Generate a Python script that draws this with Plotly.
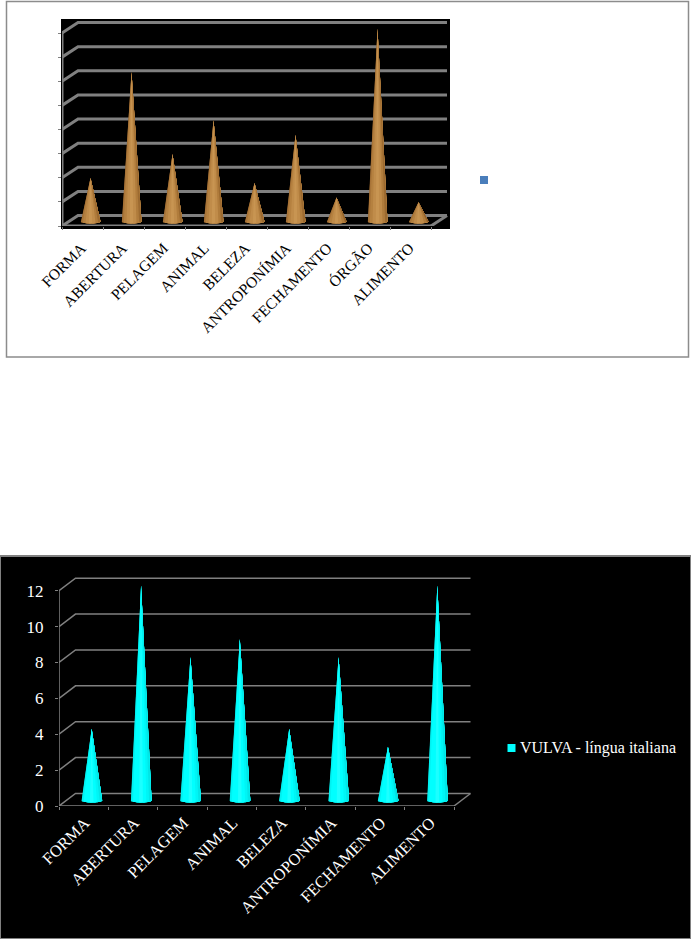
import math
import plotly.graph_objects as go

# ---- data ----
top_categories = ["FORMA", "ABERTURA", "PELAGEM", "ANIMAL", "BELEZA",
                  "ANTROPONÍMIA", "FECHAMENTO", "ÓRGÃO", "ALIMENTO"]
top_values = [9, 31, 14, 21, 8, 18, 5, 40, 4]
top_ticks = [0, 5, 10, 15, 20, 25, 30, 35, 40]

bottom_categories = ["FORMA", "ABERTURA", "PELAGEM", "ANIMAL", "BELEZA",
                     "ANTROPONÍMIA", "FECHAMENTO", "ALIMENTO"]
bottom_values = [4, 12, 8, 9, 4, 8, 3, 12]
bottom_ticks = [0, 2, 4, 6, 8, 10, 12]
bottom_series = "VULVA - língua italiana"

# ---- style / layout (pixels of the 691x939 page) ----
W, H = 691, 939
FONT = "Liberation Serif"
GREY = "#808080"
BROWN = ["#96642c", "#a87438", "#b58140", "#c08c4a", "#c89552", "#c08c4a",
         "#b07c3c", "#9c6a30", "#8a5a26"]
CYAN = ["#00e6e6", "#00f2f2", "#00ffff", "#00ffff", "#1cffff", "#00ffff", "#00f5f5",
        "#00e6e6", "#00d2d2"]


def px_x(p):
    return p / W


def px_y(p):
    return 1 - p / H


fig = go.Figure()


def chart(suffix, cats, vals, ticks, x0, x1, x_right, y0, y_top, depth, inset,
          base_hw, base_hh, colours, line_w, font_colour, font_size, tick_size,
          standoff, shift):
    """x0/x1: front floor ends, y0: zero line, y_top: pixel of the top value."""
    n = len(cats)
    sx = (x1 - x0) / n
    sy = (y0 - y_top) / ticks[-1]
    top_px = y_top - depth[1] - 6
    xmax = (x_right - x0) / sx
    ymax = (y0 - top_px) / sy
    xa = "x" + suffix
    ya = "y" + suffix
    dx, dy = depth[0] / sx, depth[1] / sy

    # floor and wall grid, plus the front axis lines
    gx, gy = [], []
    for t in ticks:
        gx += [0, dx, n + dx, None]
        gy += [t, t + dy, t + dy, None]
    gx += [n, n + dx, None, 0, n, None, 0, 0]
    gy += [0, dy, None, 0, 0, None, 0, ticks[-1]]
    fig.add_trace(go.Scatter(x=gx, y=gy, xaxis=xa, yaxis=ya, mode="lines",
                             line=dict(color=GREY, width=line_w),
                             showlegend=False, hoverinfo="skip", cliponaxis=False))

    # cones: each colour paints the fan from its angle to the right edge,
    # the next colour overlaps it, so there are no seams
    hw = base_hw / sx
    hh = base_hh / sy
    bands = len(colours)
    cx_off = inset[0] / sx
    cy_off = inset[1] / sy
    for k, col in enumerate(colours):
        px, py = [], []
        t0 = math.pi * (1 - k / bands)
        steps = [t0 * s / 12 for s in range(13)]
        for i, v in enumerate(vals):
            cx = i + 0.5 + cx_off
            px += [cx] + [cx + hw * math.cos(t) for t in reversed(steps)] + [cx, None]
            py += [cy_off + v] + [cy_off - hh * math.sin(t) for t in reversed(steps)] + [cy_off + v, None]
        fig.add_trace(go.Scatter(x=px, y=py, xaxis=xa, yaxis=ya, mode="lines",
                                 fill="toself", fillcolor=col,
                                 line=dict(color=col, width=0),
                                 showlegend=False, hoverinfo="skip", cliponaxis=False))

    xkey = "xaxis" + suffix
    ykey = "yaxis" + suffix
    fig.update_layout(**{
        xkey: dict(domain=[px_x(x0), px_x(x_right)], range=[0, xmax], anchor=ya,
                   automargin=False,
                   tickmode="array", tickvals=[i + 0.5 for i in range(n)], ticktext=cats,
                   tickangle=-45, ticks="", showgrid=False, zeroline=False,
                   showline=False,
                   ticklabelstandoff=standoff, ticklabelshift=shift,
                   tickfont=dict(family=FONT, size=font_size, color=font_colour),
                   minor=dict(tickmode="array", tickvals=list(range(n + 1)), ticks="outside",
                              ticklen=3, tickwidth=1, tickcolor=GREY, showgrid=False)),
        ykey: dict(domain=[px_y(y0), px_y(top_px)], range=[0, ymax], anchor=xa,
                   automargin=False,
                   tickmode="array", tickvals=ticks, ticks="outside", ticklen=3,
                   tickwidth=1, tickcolor=GREY, showgrid=False, zeroline=False,
                   showline=False, ticklabelstandoff=8,
                   tickfont=dict(family=FONT, size=tick_size, color=font_colour)),
    })


chart("", top_categories, top_values, top_ticks, 62, 431, 450, 226, 33, (16, 10.5),
      (8, 4.5), 10, 2, BROWN, 3, "#000000", 15.5, 15, 9, -1)
chart("2", bottom_categories, bottom_values, bottom_ticks, 59, 454, 472, 806, 590.7, (16.5, 12.5),
      (8, 5.5), 10.5, 2, CYAN, 1.5, "#ffffff", 16.5, 17, 3, 1)

# the first chart's value labels are not visible in the picture
fig.update_layout(yaxis=dict(showticklabels=False))

fig.update_layout(
    width=W, height=H, autosize=False, showlegend=False,
    margin=dict(l=0, r=0, t=0, b=0, autoexpand=False),
    paper_bgcolor="#ffffff", plot_bgcolor="rgba(0,0,0,0)",
    annotations=[
        dict(xref="paper", yref="paper", x=px_x(517.5), y=px_y(748), xanchor="left",
             yanchor="middle", text=bottom_series, showarrow=False,
             font=dict(family=FONT, size=16, color="#ffffff")),
    ],
    shapes=[
        dict(type="rect", xref="paper", yref="paper", layer="below",
             x0=px_x(6.5), x1=px_x(688.5), y0=px_y(357), y1=px_y(1.5),
             line=dict(color="#8c8c8c", width=1.5), fillcolor="#ffffff"),
        dict(type="rect", xref="paper", yref="paper", layer="below",
             x0=px_x(61), x1=px_x(450), y0=px_y(229), y1=px_y(19),
             line=dict(width=0), fillcolor="#000000"),
        dict(type="rect", xref="paper", yref="paper", layer="below",
             x0=0, x1=1, y0=0, y1=px_y(556),
             line=dict(color="#808080", width=2), fillcolor="#000000"),
        dict(type="rect", xref="paper", yref="paper", layer="above",
             x0=px_x(480), x1=px_x(488), y0=px_y(184), y1=px_y(176),
             line=dict(width=0), fillcolor="#4a7ebb"),
        dict(type="rect", xref="paper", yref="paper", layer="above",
             x0=px_x(507.5), x1=px_x(515.5), y0=px_y(752), y1=px_y(744),
             line=dict(width=0), fillcolor="#00ffff"),
    ],
)

fig.write_html("out.html", config=dict(displayModeBar=False),
               post_script="document.body.style.margin='0';document.body.style.overflow='hidden';")
